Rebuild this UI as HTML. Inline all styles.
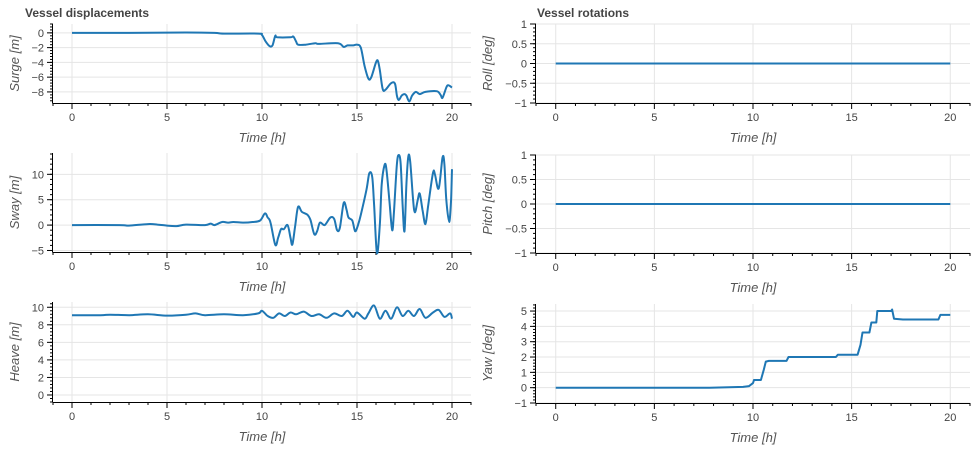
<!DOCTYPE html>
<html><head><meta charset="utf-8"><style>
body{margin:0;background:#fff;}
svg{display:block;font-family:"Liberation Sans",sans-serif;}
</style></head><body>
<svg id="c" width="980" height="455"></svg>
<script>
const surgeT=[0,3,6,7.5,8,9.8,10,10.2,10.4,10.55,10.7,10.8,11.5,11.65,11.8,11.9,12.3,12.8,13,14,14.3,14.5,14.8,15,15.2,15.4,15.6,15.75,16,16.1,16.2,16.35,16.5,16.8,17,17.1,17.2,17.35,17.5,17.6,17.75,17.9,18.1,18.3,18.6,19.2,19.4,19.5,19.7,19.8,20];
const surgeV=[0,0,0.05,0,-0.1,-0.1,-0.3,-1.2,-1.8,-1.7,-0.4,-0.6,-0.6,-0.5,-1.2,-1.6,-1.6,-1.4,-1.5,-1.4,-1.9,-1.7,-1.7,-1.6,-2,-4.5,-6.2,-6.0,-4,-3.8,-5,-7.6,-7.7,-6.8,-6.9,-8.5,-9.1,-8.5,-8.3,-8.5,-9.3,-8.5,-8,-8.3,-8,-7.9,-8.4,-8.8,-7.4,-7.1,-7.4];
const swayT=[0,2.5,3,4,4.5,5,5.5,6,7,7.3,7.5,7.9,8.2,8.5,9,9.5,9.9,10.15,10.3,10.45,10.7,10.85,11,11.15,11.35,11.5,11.6,11.75,11.9,12.1,12.4,12.55,12.75,12.9,13.05,13.3,13.6,13.8,13.95,14.1,14.3,14.45,14.55,14.75,14.9,15.05,15.2,15.5,15.65,15.8,15.9,16.05,16.2,16.3,16.45,16.55,16.7,16.85,16.95,17.1,17.2,17.3,17.4,17.5,17.6,17.7,17.8,17.95,18.05,18.2,18.3,18.45,18.6,18.75,19,19.1,19.3,19.5,19.6,19.7,19.85,19.95,20];
const swayV=[0,0,-0.1,0.2,0.1,-0.1,-0.2,0.1,0,0.3,0,0.6,0.5,0.6,0.5,0.6,0.9,2.3,1.5,0.5,-3.9,-2.5,-0.8,-0.8,0,-2.5,-3.8,0,3.6,2.6,2,1,-1.8,-1.2,0.5,0,1.5,1.2,-1,-0.5,4.4,3,1.5,0.9,-1.2,0,2,7,10.2,9.5,4,-5.5,0,8,11.8,11,5,-1,3,12,13.8,12,4,-1.2,8,13.5,12.5,5,2.5,5,6.2,3,0.2,4,10.3,10,7.2,13.3,12,5,0.6,5,11];
const heaveT=[0,1.5,2,3,4,5,6,6.5,7,8,9,9.8,10,10.3,10.6,10.9,11.2,11.5,11.8,12.2,12.6,13,13.4,13.8,14.2,14.5,14.8,15,15.4,15.6,15.9,16.2,16.5,16.8,17.1,17.4,17.7,18,18.3,18.6,19,19.3,19.6,19.9,20];
const heaveV=[9.1,9.1,9.15,9.1,9.2,9.05,9.15,9.3,9.1,9.2,9.1,9.3,9.6,9.0,8.8,9.3,9.0,9.4,9.2,9.5,9.0,9.2,8.8,9.3,9.0,9.6,8.9,9.4,8.7,9.3,10.2,8.7,9.6,8.7,10.0,9.0,9.6,9.0,9.8,8.8,9.4,9.7,8.9,9.3,8.7];
const rollT=[0,20];
const rollV=[0,0];
const pitchT=[0,20];
const pitchV=[0,0];
const yawT=[0,7.8,9.5,9.8,10,10.05,10.4,10.55,10.65,10.8,11.7,11.8,14.2,14.3,15.3,15.45,15.55,15.9,16.0,16.25,16.3,17.0,17.05,17.15,17.6,19.4,19.5,20];
const yawV=[0,0,0.05,0.1,0.3,0.5,0.5,1.2,1.7,1.75,1.75,2,2,2.15,2.15,2.8,3.6,3.6,4.25,4.25,5,5,5.1,4.5,4.45,4.45,4.75,4.75];
const xTicks=[0,5,10,15,20];

const NS='http://www.w3.org/2000/svg';
const svg=document.getElementById('c');
function mk(tag,attrs,parent){const e=document.createElementNS(NS,tag);for(const k in attrs)e.setAttribute(k,attrs[k]);(parent||svg).appendChild(e);return e;}
function fmt(v){return v<0?'\u2212'+Math.abs(v):String(v);}

function plot(name,cfg,T,V,smooth){
  const g=mk('g',{});
  
  
  const {x0,x1,y0,y1,ymin,ymax,yTicks,yMinor,label,labelX}=cfg;
  const sx=v=>x0+(v-(-1))/22*(x1-x0);
  const sy=v=>y1-(v-ymin)/(ymax-ymin)*(y1-y0);
  xTicks.forEach(t=>{const l=mk('line',{x1:sx(t),x2:sx(t),y1:y0,y2:y1,stroke:'#e5e5e5','stroke-width':1},g);});
  yTicks.forEach(t=>{const l=mk('line',{x1:x0,x2:x1,y1:sy(t),y2:sy(t),stroke:'#e5e5e5','stroke-width':1},g);});
  const ax=mk('line',{x1:x0,x2:x1,y1:y1+0.5,y2:y1+0.5,stroke:'#000','stroke-width':1},g);
  
  const ay=mk('line',{x1:x0-0.5,x2:x0-0.5,y1:y0,y2:y1+0.5,stroke:'#000','stroke-width':1},g);
  
  for(let t=-1;t<=21;t++){const major=t%5===0&&t>=0&&t<=20;mk('line',{x1:sx(t),x2:sx(t),y1:y1,y2:y1+(major?6:3),stroke:'#000'},g);}
  xTicks.forEach(t=>{const tx=mk('text',{x:sx(t),y:y1+18,'text-anchor':'middle','font-size':11,fill:'#444'},g);tx.textContent=t;});
  for(let v=Math.ceil(ymin/yMinor)*yMinor;v<=ymax+1e-9;v+=yMinor){mk('line',{x1:x0-3,x2:x0,y1:sy(v),y2:sy(v),stroke:'#000'},g);}
  yTicks.forEach(t=>{mk('line',{x1:x0-6,x2:x0,y1:sy(t),y2:sy(t),stroke:'#000'},g);const tx=mk('text',{x:x0-9,y:sy(t)+4,'text-anchor':'end','font-size':11,fill:'#444'},g);tx.textContent=fmt(t);});
  const xt=mk('text',{x:(sx(0)+sx(20))/2,y:y1+39,'text-anchor':'middle','font-size':13,'font-style':'italic',fill:'#555'},g);
  xt.textContent='Time [h]';
  const yt=mk('text',{x:0,y:0,'text-anchor':'middle','font-size':13,'font-style':'italic',fill:'#555',transform:`translate(${labelX},${(y0+y1)/2}) rotate(-90)`},g);
  yt.textContent=label;
  const P=T.map((t,i)=>[sx(t),sy(V[i])]);
  let d='M'+P[0][0].toFixed(1)+','+P[0][1].toFixed(1);
  for(let i=1;i<P.length;i++){
    if(!smooth){d+='L'+P[i][0].toFixed(1)+','+P[i][1].toFixed(1);continue;}
    const p0=P[Math.max(0,i-2)],p1=P[i-1],p2=P[i],p3=P[Math.min(P.length-1,i+1)];
    const k=1/6;
    const c1x=p1[0]+(p2[0]-p0[0])*k,c1y=p1[1]+(p2[1]-p0[1])*k;
    const c2x=p2[0]-(p3[0]-p1[0])*k,c2y=p2[1]-(p3[1]-p1[1])*k;
    d+=`C${c1x.toFixed(1)},${c1y.toFixed(1)} ${c2x.toFixed(1)},${c2y.toFixed(1)} ${p2[0].toFixed(1)},${p2[1].toFixed(1)}`;
  }
  const p=mk('path',{d:d,fill:'none',stroke:'#1f77b4','stroke-width':2,'stroke-linejoin':'round'},g);
  
}
const L={x0:53,x1:471,labelX:19}, R={x0:536,x1:970,labelX:492};
plot('surge',{...L,y0:24,y1:103,ymin:-9.5,ymax:1.2,yTicks:[0,-2,-4,-6,-8],yMinor:0.4,label:'Surge [m]'},surgeT,surgeV,true);
plot('sway',{...L,y0:153,y1:252,ymin:-5.3,ymax:14.2,yTicks:[-5,0,5,10],yMinor:1,label:'Sway [m]'},swayT,swayV,true);
plot('heave',{...L,y0:302,y1:402,ymin:-0.8,ymax:10.6,yTicks:[0,2,4,6,8,10],yMinor:0.4,label:'Heave [m]'},heaveT,heaveV,true);
plot('roll',{...R,y0:24,y1:103,ymin:-1,ymax:1,yTicks:[-1,-0.5,0,0.5,1],yMinor:0.1,label:'Roll [deg]'},rollT,rollV,false);
plot('pitch',{...R,y0:155,y1:253,ymin:-1,ymax:1,yTicks:[-1,-0.5,0,0.5,1],yMinor:0.1,label:'Pitch [deg]'},pitchT,pitchV,false);
plot('yaw',{...R,y0:304,y1:403,ymin:-1,ymax:5.46,yTicks:[-1,0,1,2,3,4,5],yMinor:0.2,label:'Yaw [deg]'},yawT,yawV,false);
const t1=mk('text',{x:25,y:17,'font-size':12,'font-weight':'bold',fill:'#444'});
t1.textContent='Vessel displacements';


const t2=mk('text',{x:537,y:17,'font-size':12,'font-weight':'bold',fill:'#444'});
t2.textContent='Vessel rotations';


</script>
</body></html>
